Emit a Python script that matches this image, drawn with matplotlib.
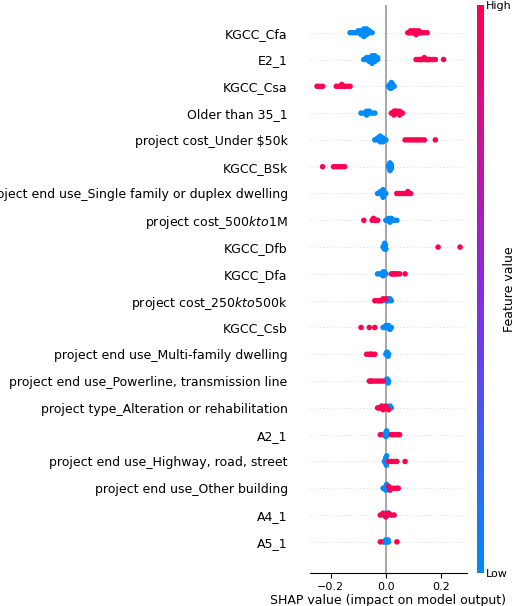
import numpy as np
import matplotlib
matplotlib.use("Agg")
from matplotlib import pyplot as plt
from matplotlib.colors import LinearSegmentedColormap

# features top to bottom
features = [
    "KGCC_Cfa", "E2_1", "KGCC_Csa", "Older than 35_1", r"project cost_Under \$50k",
    "KGCC_BSk", "project end use_Single family or duplex dwelling",
    "project cost_500$kto$1M", "KGCC_Dfb", "KGCC_Dfa", "project cost_250$kto$500k",
    "KGCC_Csb", "project end use_Multi-family dwelling",
    "project end use_Powerline, transmission line",
    "project type_Alteration or rehabilitation", "A2_1",
    "project end use_Highway, road, street", "project end use_Other building",
    "A4_1", "A5_1",
]

# SHAP values for low (blue) and high (red) feature values
low_vals = [
    [-0.13, -0.12, -0.11, -0.10, -0.10, -0.09, -0.09, -0.09, -0.08, -0.08, -0.08, -0.08, -0.08, -0.07, -0.07, -0.07, -0.07, -0.06, -0.06, -0.05],
    [-0.08, -0.07, -0.07, -0.06, -0.06, -0.06, -0.05, -0.05, -0.05, -0.05, -0.05, -0.04, -0.04, -0.04, -0.04, -0.03, -0.03],
    [0.01, 0.015, 0.015, 0.02, 0.02, 0.02, 0.02, 0.025, 0.025, 0.03],
    [-0.09, -0.08, -0.07, -0.07, -0.07, -0.06, -0.06, -0.05, -0.04],
    [-0.04, -0.03, -0.03, -0.02, -0.02, -0.02, -0.02, -0.01, -0.01, -0.01, 0.0],
    [0.01, 0.012, 0.015, 0.015, 0.015, 0.02, 0.02, 0.02],
    [-0.03, -0.02, -0.02, -0.015, -0.015, -0.01, -0.01, -0.01, 0.0],
    [0.0, 0.005, 0.01, 0.01, 0.015, 0.02, 0.02, 0.025, 0.03, 0.04],
    [-0.01, -0.008, -0.006, -0.005, -0.004, -0.003, -0.002, 0.0],
    [-0.03, -0.02, -0.015, -0.01, -0.01, -0.008, -0.005, 0.0],
    [0.0, 0.005, 0.008, 0.01, 0.015, 0.02],
    [-0.01, -0.005, 0.0, 0.0, 0.005, 0.005, 0.01, 0.01, 0.015, 0.02],
    [0.0, 0.003, 0.005, 0.006, 0.008, 0.01],
    [0.0, 0.003, 0.005, 0.006, 0.008, 0.01],
    [-0.01, -0.005, 0.0, 0.005, 0.01, 0.015, 0.02],
    [-0.01, -0.005, -0.003, 0.0, 0.0, 0.003, 0.005, 0.01],
    [-0.005, -0.003, -0.002, 0.0, 0.0, 0.002, 0.003, 0.005],
    [-0.01, -0.005, -0.003, 0.0, 0.0, 0.003, 0.005, 0.01],
    [-0.01, -0.005, 0.0, 0.0, 0.005, 0.008, 0.01],
    [-0.01, -0.005, 0.0, 0.0, 0.005, 0.008, 0.01],
]
high_vals = [
    [0.08, 0.085, 0.09, 0.09, 0.095, 0.10, 0.10, 0.105, 0.11, 0.11, 0.115, 0.12, 0.12, 0.125, 0.13, 0.14, 0.15],
    [0.11, 0.12, 0.125, 0.13, 0.14, 0.14, 0.145, 0.15, 0.155, 0.16, 0.17, 0.18, 0.21],
    [-0.25, -0.24, -0.23, -0.18, -0.17, -0.16, -0.16, -0.15, -0.14, -0.13],
    [0.02, 0.025, 0.03, 0.03, 0.03, 0.035, 0.035, 0.04, 0.04, 0.045, 0.05, 0.05, 0.055, 0.06],
    [0.07, 0.08, 0.09, 0.10, 0.11, 0.12, 0.13, 0.14, 0.18],
    [-0.23, -0.19, -0.18, -0.17, -0.16, -0.15],
    [0.04, 0.05, 0.06, 0.07, 0.08, 0.08, 0.09],
    [-0.08, -0.05, -0.045, -0.04, -0.035, -0.03],
    [0.19, 0.27],
    [0.02, 0.025, 0.03, 0.035, 0.04, 0.05, 0.07],
    [-0.04, -0.03, -0.025, -0.02, -0.015, -0.01, 0.0],
    [-0.09, -0.06, -0.04],
    [-0.07, -0.06, -0.055, -0.05, -0.04],
    [-0.06, -0.055, -0.05, -0.04, -0.03, -0.02, -0.01],
    [-0.03, -0.025, -0.02, -0.015, -0.01, 0.0, 0.01],
    [-0.02, 0.02, 0.025, 0.03, 0.04, 0.05],
    [0.01, 0.02, 0.03, 0.04, 0.07],
    [0.01, 0.015, 0.02, 0.03, 0.04, 0.045],
    [-0.02, -0.01, 0.0, 0.01, 0.02, 0.03],
    [-0.02, 0.04],
]

cmap = LinearSegmentedColormap.from_list("red_blue", ["#008bfb", "#8a2be2", "#ff0052"])


def swarm_offsets(values, bin_width=0.006, step=0.07):
    values = np.asarray(values)
    bins = np.round(values / bin_width).astype(int)
    offsets = np.zeros(len(values))
    counts = {}
    for i, b in enumerate(bins):
        k = counts.get(b, 0)
        counts[b] = k + 1
        sign = 1 if k % 2 else -1
        offsets[i] = 0 if k == 0 else sign * ((k + 1) // 2) * step
    return np.clip(offsets, -0.4, 0.4)


fig = plt.figure(figsize=(5.2, 6.06), dpi=100)
ax = fig.add_axes([0.596, 0.055, 0.302, 0.937])
n = len(features)
for i, name in enumerate(features):
    y = n - 1 - i
    ax.axhline(y, color="#cccccc", lw=0.6, ls=(0, (1, 3)), zorder=-1)
    vals = low_vals[i] + high_vals[i]
    levels = [0.0] * len(low_vals[i]) + [1.0] * len(high_vals[i])
    off = swarm_offsets(vals)
    ax.scatter(vals, y + off, c=cmap(np.array(levels)), s=16, lw=0, zorder=3)

ax.axvline(0, color="#999999", lw=1.2, zorder=1)
ax.set_yticks(range(n))
ax.set_yticklabels(features[::-1], fontsize=9)
ax.tick_params(axis="y", length=0, pad=16)
ax.set_xlim(-0.276, 0.295)
ax.set_ylim(-1.15, n - 1 + 1.04)
ax.set_xticks([-0.2, 0.0, 0.2])
ax.tick_params(axis="x", labelsize=8)
ax.set_xlabel("SHAP value (impact on model output)", fontsize=9, labelpad=1)
for s in ["top", "right", "left"]:
    ax.spines[s].set_visible(False)

cax = fig.add_axes([0.917, 0.055, 0.012, 0.937])
grad = np.linspace(0, 1, 256).reshape(-1, 1)
cax.imshow(grad, aspect="auto", cmap=cmap, origin="lower", extent=[0, 1, 0, 1])
cax.set_xticks([])
cax.set_yticks([0, 1])
cax.set_yticklabels(["Low", "High"], fontsize=8)
cax.yaxis.tick_right()
cax.tick_params(axis="y", length=0, pad=2)
for s in cax.spines.values():
    s.set_visible(False)
cax.yaxis.set_label_position("right")
cax.set_ylabel("Feature value", fontsize=9, labelpad=-6)

fig.savefig("out.png", dpi=100)
